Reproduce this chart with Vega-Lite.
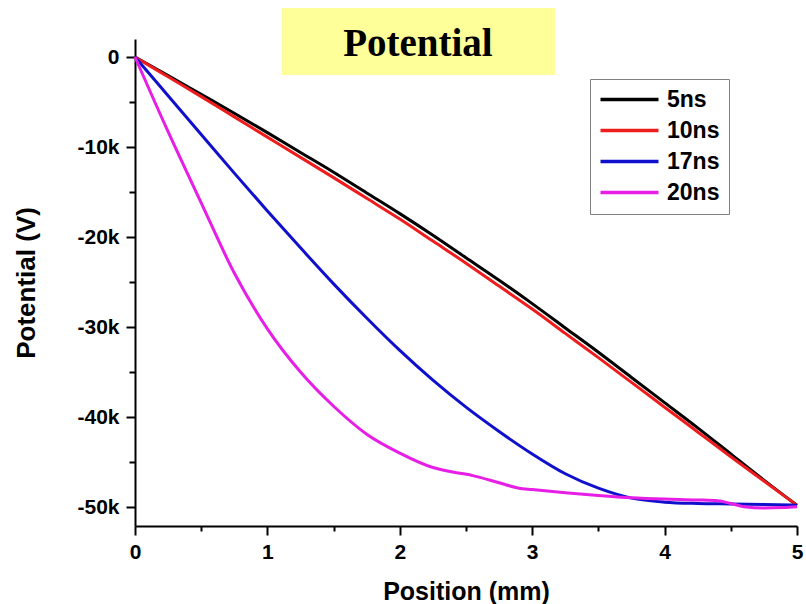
{
  "$schema": "https://vega.github.io/schema/vega-lite/v6.json",
  "width": 662,
  "height": 487,
  "autosize": {"type": "none"},
  "padding": {"left": 135, "top": 39, "right": 9, "bottom": 78},
  "background": "white",
  "config": {"view": {"stroke": null}, "font": "Liberation Sans"},
  "datasets": {
    "banner": [
      {"x1": 1.11, "x2": 3.172, "y1": 5440, "y2": -2000, "tx": 2.137, "ty": 120, "label": "Potential"}
    ],
    "curves": [
      {"series": "5ns", "x": 0, "v": 0},
      {"series": "5ns", "x": 0.25, "v": -2050},
      {"series": "5ns", "x": 0.5, "v": -4150},
      {"series": "5ns", "x": 0.75, "v": -6250},
      {"series": "5ns", "x": 1.0, "v": -8400},
      {"series": "5ns", "x": 1.25, "v": -10600},
      {"series": "5ns", "x": 1.5, "v": -12800},
      {"series": "5ns", "x": 1.75, "v": -15100},
      {"series": "5ns", "x": 2.0, "v": -17400},
      {"series": "5ns", "x": 2.25, "v": -19800},
      {"series": "5ns", "x": 2.5, "v": -22300},
      {"series": "5ns", "x": 2.75, "v": -24800},
      {"series": "5ns", "x": 3.0, "v": -27400},
      {"series": "5ns", "x": 3.25, "v": -30100},
      {"series": "5ns", "x": 3.5, "v": -32800},
      {"series": "5ns", "x": 3.75, "v": -35600},
      {"series": "5ns", "x": 4.0, "v": -38400},
      {"series": "5ns", "x": 4.25, "v": -41200},
      {"series": "5ns", "x": 4.5, "v": -44100},
      {"series": "5ns", "x": 4.75, "v": -47000},
      {"series": "5ns", "x": 5.0, "v": -49800},
      {"series": "10ns", "x": 0, "v": 0},
      {"series": "10ns", "x": 0.25, "v": -2200},
      {"series": "10ns", "x": 0.5, "v": -4400},
      {"series": "10ns", "x": 0.75, "v": -6650},
      {"series": "10ns", "x": 1.0, "v": -8900},
      {"series": "10ns", "x": 1.25, "v": -11150},
      {"series": "10ns", "x": 1.5, "v": -13400},
      {"series": "10ns", "x": 1.75, "v": -15700},
      {"series": "10ns", "x": 2.0, "v": -18000},
      {"series": "10ns", "x": 2.25, "v": -20450},
      {"series": "10ns", "x": 2.5, "v": -22900},
      {"series": "10ns", "x": 2.75, "v": -25450},
      {"series": "10ns", "x": 3.0, "v": -28000},
      {"series": "10ns", "x": 3.25, "v": -30700},
      {"series": "10ns", "x": 3.5, "v": -33400},
      {"series": "10ns", "x": 3.75, "v": -36150},
      {"series": "10ns", "x": 4.0, "v": -38900},
      {"series": "10ns", "x": 4.25, "v": -41650},
      {"series": "10ns", "x": 4.5, "v": -44400},
      {"series": "10ns", "x": 4.75, "v": -47100},
      {"series": "10ns", "x": 5.0, "v": -49800},
      {"series": "17ns", "x": 0, "v": 0},
      {"series": "17ns", "x": 0.25, "v": -4300},
      {"series": "17ns", "x": 0.5, "v": -8600},
      {"series": "17ns", "x": 0.75, "v": -12900},
      {"series": "17ns", "x": 1.0, "v": -17100},
      {"series": "17ns", "x": 1.25, "v": -21200},
      {"series": "17ns", "x": 1.5, "v": -25200},
      {"series": "17ns", "x": 1.75, "v": -29000},
      {"series": "17ns", "x": 2.0, "v": -32600},
      {"series": "17ns", "x": 2.25, "v": -35900},
      {"series": "17ns", "x": 2.5, "v": -38900},
      {"series": "17ns", "x": 2.75, "v": -41600},
      {"series": "17ns", "x": 3.0, "v": -44100},
      {"series": "17ns", "x": 3.25, "v": -46300},
      {"series": "17ns", "x": 3.5, "v": -47900},
      {"series": "17ns", "x": 3.75, "v": -49000},
      {"series": "17ns", "x": 4.0, "v": -49450},
      {"series": "17ns", "x": 4.25, "v": -49600},
      {"series": "17ns", "x": 4.5, "v": -49650},
      {"series": "17ns", "x": 4.75, "v": -49700},
      {"series": "17ns", "x": 5.0, "v": -49800},
      {"series": "20ns", "x": 0, "v": 0},
      {"series": "20ns", "x": 0.25, "v": -8300},
      {"series": "20ns", "x": 0.5, "v": -16200},
      {"series": "20ns", "x": 0.75, "v": -24000},
      {"series": "20ns", "x": 1.0, "v": -30200},
      {"series": "20ns", "x": 1.25, "v": -35000},
      {"series": "20ns", "x": 1.5, "v": -38800},
      {"series": "20ns", "x": 1.75, "v": -41900},
      {"series": "20ns", "x": 2.0, "v": -44000},
      {"series": "20ns", "x": 2.25, "v": -45600},
      {"series": "20ns", "x": 2.4, "v": -46100},
      {"series": "20ns", "x": 2.55, "v": -46500},
      {"series": "20ns", "x": 2.75, "v": -47300},
      {"series": "20ns", "x": 2.9, "v": -47900},
      {"series": "20ns", "x": 3.0, "v": -48050},
      {"series": "20ns", "x": 3.25, "v": -48400},
      {"series": "20ns", "x": 3.5, "v": -48700},
      {"series": "20ns", "x": 3.75, "v": -48950},
      {"series": "20ns", "x": 4.0, "v": -49100},
      {"series": "20ns", "x": 4.25, "v": -49200},
      {"series": "20ns", "x": 4.4, "v": -49300},
      {"series": "20ns", "x": 4.5, "v": -49600},
      {"series": "20ns", "x": 4.6, "v": -49950},
      {"series": "20ns", "x": 4.75, "v": -50100},
      {"series": "20ns", "x": 4.9, "v": -50050},
      {"series": "20ns", "x": 5.0, "v": -49950}
    ]
  },
  "layer": [
    {
      "data": {"name": "curves"},
      "mark": {"type": "line", "strokeWidth": 3, "interpolate": "monotone"},
      "encoding": {
        "x": {
          "field": "x",
          "type": "quantitative",
          "scale": {"domain": [0, 5], "nice": false, "zero": false},
          "axis": {
            "title": "Position (mm)",
            "values": [0, 0.5, 1, 1.5, 2, 2.5, 3, 3.5, 4, 4.5, 5],
            "labelExpr": "datum.value % 1 === 0 ? format(datum.value, 'd') : ''",
            "tickSize": {"condition": {"test": "datum.value % 1 !== 0", "value": 5}, "value": 9},
            "grid": false,
            "domainColor": "black",
            "domainWidth": 2,
            "tickColor": "black",
            "tickWidth": 2,
            "labelFlush": false,
            "labelOverlap": false,
            "labelFont": "Liberation Sans",
            "labelFontWeight": "bold",
            "labelFontSize": 21,
            "labelColor": "black",
            "labelPadding": 6,
            "titleFont": "Liberation Sans",
            "titleFontWeight": "bold",
            "titleFontSize": 25,
            "titleColor": "black",
            "titlePadding": 17
          }
        },
        "y": {
          "field": "v",
          "type": "quantitative",
          "scale": {"domain": [-52100, 2000], "nice": false, "zero": false},
          "axis": {
            "title": "Potential (V)",
            "values": [-50000, -45000, -40000, -35000, -30000, -25000, -20000, -15000, -10000, -5000, 0],
            "labelExpr": "datum.value % 10000 === 0 ? (datum.value === 0 ? '0' : (datum.value / 1000) + 'k') : ''",
            "tickSize": {"condition": {"test": "datum.value % 10000 !== 0", "value": 6}, "value": 9},
            "grid": false,
            "domainColor": "black",
            "domainWidth": 2,
            "tickColor": "black",
            "tickWidth": 2,
            "labelFlush": false,
            "labelOverlap": false,
            "labelFont": "Liberation Sans",
            "labelFontWeight": "bold",
            "labelFontSize": 21,
            "labelColor": "black",
            "labelPadding": 7,
            "titleFont": "Liberation Sans",
            "titleFontWeight": "bold",
            "titleFontSize": 26,
            "titleColor": "black",
            "titlePadding": 37
          }
        },
        "color": {
          "field": "series",
          "type": "nominal",
          "sort": ["5ns", "10ns", "17ns", "20ns"],
          "scale": {"domain": ["5ns", "10ns", "17ns", "20ns"], "range": ["#000000", "#ee1c1c", "#1010cc", "#e61ee6"]},
          "legend": {
            "orient": "none",
            "legendX": 455,
            "legendY": 40,
            "title": null,
            "symbolType": "M-14.5,0H14.5",
            "symbolSize": 16,
            "symbolStrokeWidth": 3.5,
            "symbolOffset": 19,
            "labelFont": "Liberation Sans",
            "labelFontSize": 23,
            "labelFontWeight": "bold",
            "labelColor": "black",
            "labelOffset": 26,
            "rowPadding": 7,
            "padding": 9,
            "strokeColor": "#808080",
            "fillColor": "white",
            "cornerRadius": 0
          }
        }
      }
    },
    {
      "data": {"name": "banner"},
      "mark": {"type": "rect", "fill": "#ffff99"},
      "encoding": {
        "x": {"field": "x1", "type": "quantitative"},
        "x2": {"field": "x2"},
        "y": {"field": "y1", "type": "quantitative"},
        "y2": {"field": "y2"}
      }
    },
    {
      "data": {"name": "banner"},
      "mark": {"type": "text", "font": "Liberation Serif", "fontSize": 39, "fontWeight": "bold", "baseline": "alphabetic", "align": "center", "color": "black"},
      "encoding": {
        "x": {"field": "tx", "type": "quantitative"},
        "y": {"field": "ty", "type": "quantitative"},
        "text": {"field": "label"}
      }
    }
  ]
}
